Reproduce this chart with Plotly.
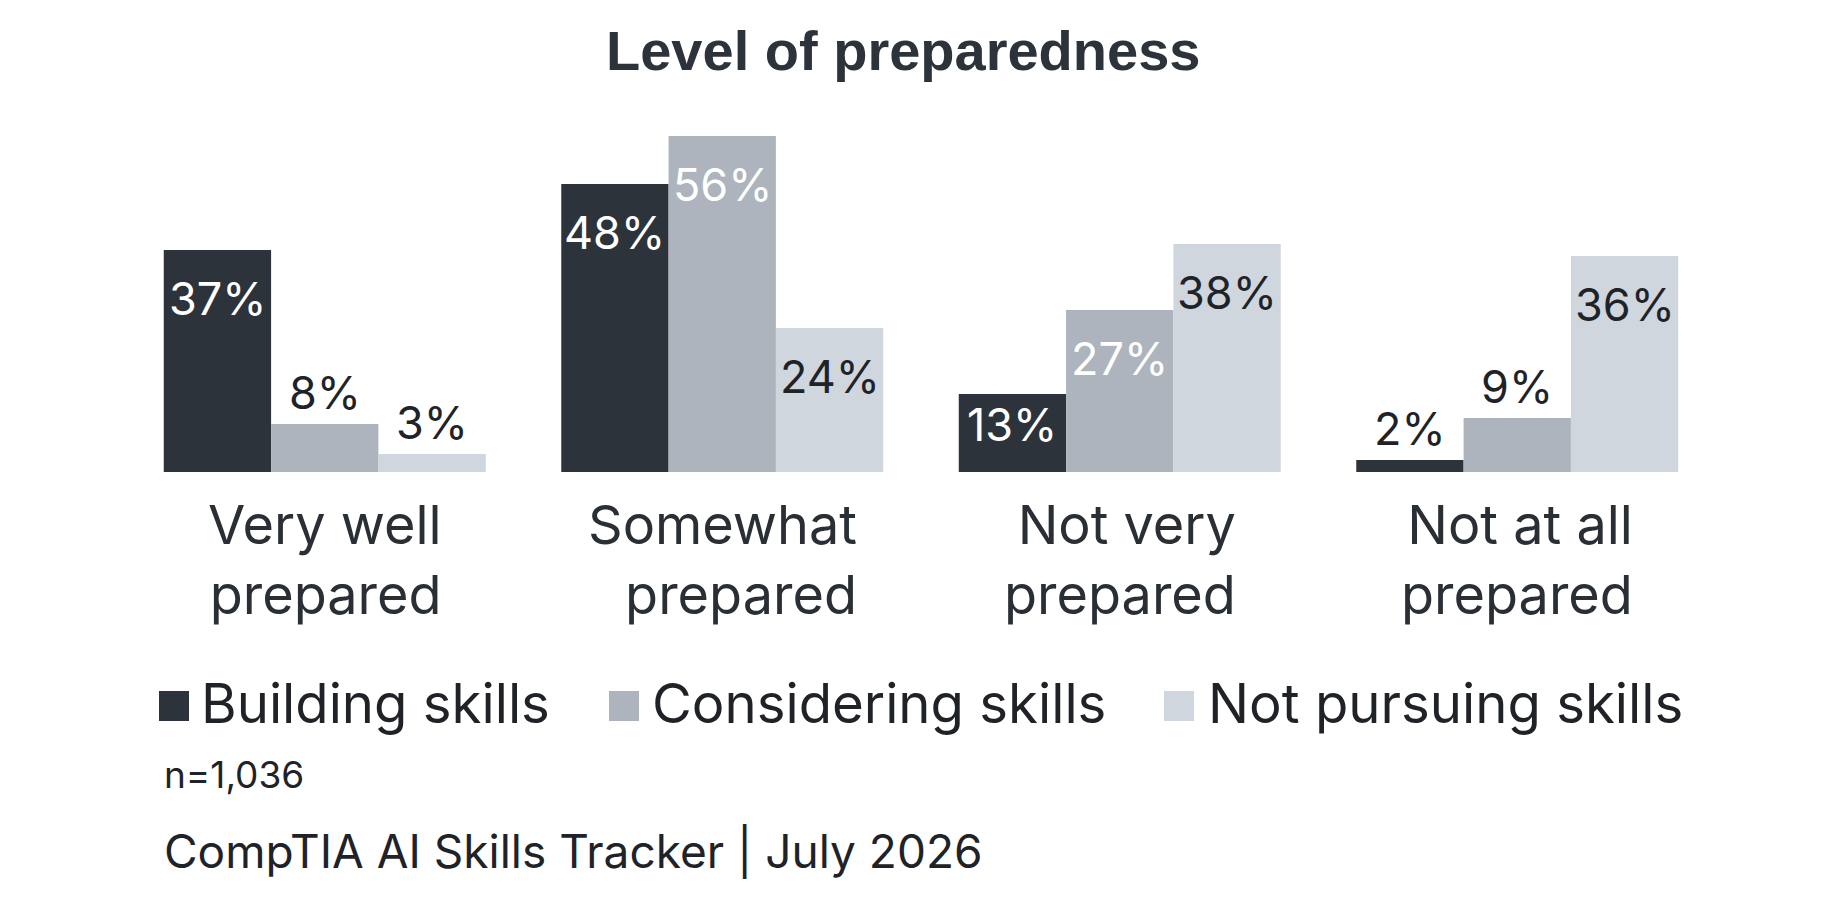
import plotly.graph_objects as go

# ---- data ----
categories = ["Very well<br>prepared", "Somewhat<br>prepared", "Not very<br>prepared", "Not at all<br>prepared"]
series_names = ["Building skills", "Considering skills", "Not pursuing skills"]
building = [37, 48, 13, 2]
considering = [8, 56, 27, 9]
not_pursuing = [3, 24, 38, 36]
series_values = [building, considering, not_pursuing]

title_text = "Level of preparedness"
note_text = "n=1,036"
source_text = "CompTIA AI Skills Tracker | July 2026"

# ---- style ----
W, H = 1848, 908
M_L, M_R, M_T, M_B = 126, 132, 112, 436
BARGAP = 0.19
bar_colors = ["#2d333b", "#adb4bd", "#d0d6dd"]
inside_text_colors = ["#ffffff", "#ffffff", "#1f2328"]
dark_text = "#1f2328"
FONT = "Inter"

PW = W - M_L - M_R
PH = H - M_T - M_B


def px_x(px):
    return (px - M_L) / PW


def px_y(py):
    return (H - M_B - py) / PH


fig = go.Figure()
for name, vals, col in zip(series_names, series_values, bar_colors):
    fig.add_trace(go.Bar(x=categories, y=vals, name=name, marker=dict(color=col, line=dict(width=0)),
                         showlegend=False, hoverinfo="skip"))

annotations = []

# category labels (right-aligned lines, block centred under each group)
for i, cat in enumerate(categories):
    annotations.append(dict(x=i, y=0, xref="x", yref="y", text=cat, showarrow=False,
                            xanchor="center", yanchor="top", align="right", yshift=-18,
                            font=dict(family=FONT, size=54, color="#2a2f36")))

# value labels
n_series = len(series_values)
bw = (1 - BARGAP) / n_series
for j, vals in enumerate(series_values):
    for i, v in enumerate(vals):
        xc = i + (j - (n_series - 1) / 2) * bw
        label = f"{v}%"
        if v >= 12:
            if v >= 16:
                y, ys = v, -48
            else:
                y, ys = 0, 48
            annotations.append(dict(x=xc, y=y, xref="x", yref="y", text=label, showarrow=False,
                                    yanchor="middle", xanchor="center", yshift=ys,
                                    font=dict(family=FONT, size=45, color=inside_text_colors[j])))
        else:
            annotations.append(dict(x=xc, y=v, xref="x", yref="y", text=label, showarrow=False,
                                    yanchor="middle", xanchor="center", yshift=32,
                                    font=dict(family=FONT, size=45, color=dark_text)))

# title
annotations.append(dict(x=px_x(903), y=px_y(51), xref="paper", yref="paper", text=f"<b>{title_text}</b>",
                        showarrow=False, xanchor="center", yanchor="middle",
                        font=dict(family="Liberation Sans", size=56, color="#2d333b")))

# custom legend
legend_sq_left = [159, 609, 1164]
legend_txt_left = [199, 650, 1206]
shapes = []
for name, col, sx, tx in zip(series_names, bar_colors, legend_sq_left, legend_txt_left):
    shapes.append(dict(type="rect", xref="paper", yref="paper", x0=px_x(sx), x1=px_x(sx + 30),
                       y0=px_y(721), y1=px_y(691), fillcolor=col, line=dict(width=0)))
    annotations.append(dict(x=px_x(tx), y=px_y(703), xref="paper", yref="paper", text=name, showarrow=False,
                            xanchor="left", yanchor="middle", font=dict(family=FONT, size=54.5, color=dark_text)))

# footer
annotations.append(dict(x=px_x(162), y=px_y(774), xref="paper", yref="paper", text=note_text, showarrow=False,
                        xanchor="left", yanchor="middle", font=dict(family=FONT, size=37, color=dark_text)))
annotations.append(dict(x=px_x(162), y=px_y(851), xref="paper", yref="paper", text=source_text, showarrow=False,
                        xanchor="left", yanchor="middle", font=dict(family=FONT, size=46, color=dark_text)))

fig.update_layout(
    width=W, height=H,
    margin=dict(l=M_L, r=M_R, t=M_T, b=M_B),
    barmode="group", bargap=BARGAP, bargroupgap=0,
    plot_bgcolor="white", paper_bgcolor="white",
    showlegend=False,
    annotations=annotations,
    shapes=shapes,
    font=dict(family=FONT, color=dark_text),
    xaxis=dict(showgrid=False, showline=False, zeroline=False, ticks="", showticklabels=False,
               fixedrange=True),
    yaxis=dict(visible=False, range=[0, 60], fixedrange=True),
)

fig.write_html("out.html", config={"displayModeBar": False})
